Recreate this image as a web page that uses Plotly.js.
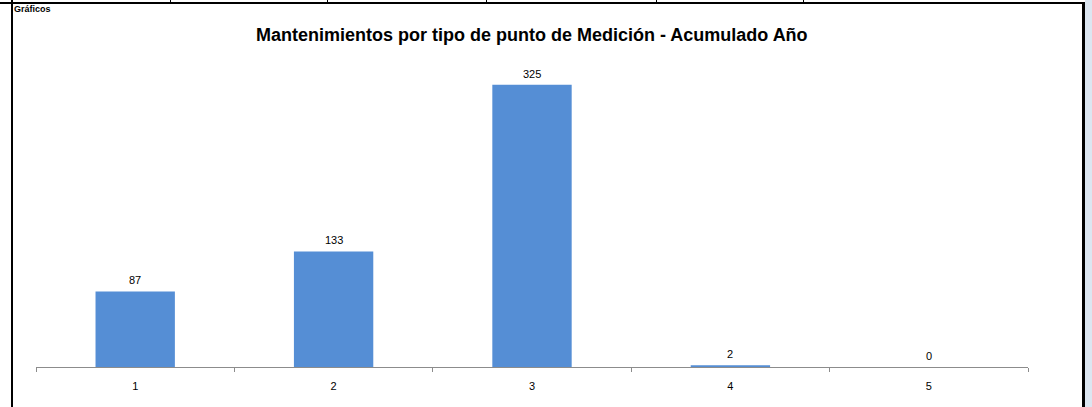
<!DOCTYPE html>
<html>
<head>
<meta charset="utf-8">
<script src="https://cdn.plot.ly/plotly-3.0.1.min.js"></script>
<style>
  html, body { margin: 0; padding: 0; background: #ffffff; }
  #wrap { position: relative; width: 1092px; height: 407px; overflow: hidden; }
  #chart { position: absolute; left: 0; top: 0; width: 1092px; height: 407px; }
  .ln { position: absolute; background: #000; }
  #sheetlbl { position: absolute; left: 14px; top: 4px;
    font: bold 9px "Liberation Sans", Arial, sans-serif; color: #000; line-height: 10px; }
  #side { position: absolute; left: 1085px; top: 0; width: 7px; height: 407px; background: #dce6f1; }
</style>
</head>
<body>
<div id="wrap">
  <div id="chart"></div>
  <div class="ln" style="left:0;top:2px;width:1085px;height:2px;"></div>
  <div class="ln" style="left:11px;top:0;width:2px;height:407px;"></div>
  <div class="ln" style="left:1082px;top:2px;width:3px;height:405px;"></div>
  <div class="ln" style="left:170px;top:0;width:1px;height:2px;"></div>
  <div class="ln" style="left:327px;top:0;width:1px;height:2px;"></div>
  <div class="ln" style="left:486px;top:0;width:1px;height:2px;"></div>
  <div class="ln" style="left:656px;top:0;width:1px;height:2px;"></div>
  <div class="ln" style="left:803px;top:0;width:1px;height:2px;"></div>
  <div id="side"></div>
  <div id="sheetlbl">Gráficos</div>
</div>
<script>
const categories = ['1', '2', '3', '4', '5'];
const values = [87, 133, 325, 2, 0];
const chartTitle = 'Mantenimientos por tipo de punto de Medición - Acumulado Año';

const trace = {
  type: 'bar',
  x: categories,
  y: values,
  marker: { color: '#558ed5' },
  hoverinfo: 'x+y'
};

// category axes position annotations by category index
const labelAnnotations = categories.map((c, i) => ({
  x: i,
  y: values[i],
  xref: 'x',
  yref: 'y',
  text: String(values[i]),
  showarrow: false,
  yanchor: 'bottom',
  yshift: 3,
  font: { family: 'Liberation Sans, Arial, sans-serif', size: 11, color: '#000' }
}));

const layout = {
  width: 1092,
  height: 407,
  margin: { l: 36, r: 64, t: 63, b: 40 },
  paper_bgcolor: 'rgba(0,0,0,0)',
  plot_bgcolor: 'rgba(0,0,0,0)',
  showlegend: false,
  bargap: 0.6,
  annotations: labelAnnotations,
  title: {
    text: '<b>' + chartTitle + '</b>',
    font: { family: 'Liberation Sans, Arial, sans-serif', size: 18, color: '#000' },
    x: 0.487, xanchor: 'center',
    y: 0.915, yanchor: 'middle'
  },
  xaxis: {
    type: 'category',
    range: [-0.5, categories.length - 0.5],
    showline: true,
    linecolor: '#8c8c8c',
    linewidth: 1,
    ticks: 'outside',
    tickson: 'boundaries',
    ticklen: 4,
    tickcolor: '#8c8c8c',
    ticklabelstandoff: 9,
    showgrid: false,
    zeroline: false,
    tickfont: { family: 'Liberation Sans, Arial, sans-serif', size: 11, color: '#000' },
    fixedrange: true
  },
  yaxis: {
    range: [0, 350],
    visible: false,
    showgrid: false,
    zeroline: false,
    fixedrange: true
  }
};

Plotly.newPlot('chart', [trace], layout, { displayModeBar: false, staticPlot: true });
</script>
</body>
</html>
